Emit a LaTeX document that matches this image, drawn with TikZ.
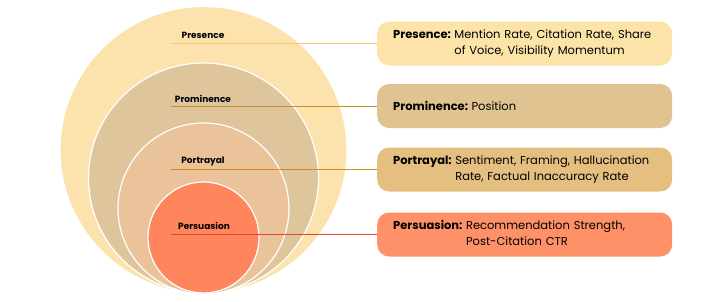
\documentclass[tikz,border=0pt]{standalone}
\usepackage{fontspec}
\setmainfont{Poppins}
\usetikzlibrary{positioning}
\definecolor{presFill}{HTML}{FCE3AD}
\definecolor{promFill}{HTML}{DFC59B}
\definecolor{portFill}{HTML}{EBC39B}
\definecolor{persFill}{HTML}{FF855D}
\definecolor{presBoxFill}{HTML}{FCE4A9}
\definecolor{promBoxFill}{HTML}{DFC390}
\definecolor{portBoxFill}{HTML}{E5BF80}
\definecolor{persBoxFill}{HTML}{FF9169}
\definecolor{presLine}{HTML}{F6C766}
\definecolor{promLine}{HTML}{C89030}
\definecolor{portLine}{HTML}{D88E10}
\definecolor{persLine}{HTML}{E8432E}
\begin{document}
\begin{tikzpicture}[
    x=1pt, y=-1pt,
    ring/.style={circle, draw=white, line width=1.2pt, inner sep=0pt},
    ringlabel/.style={font=\fontsize{9}{10}\selectfont\bfseries, anchor=south,
                      inner sep=2pt},
    metricbox/.style={rounded corners=12pt, anchor=west, align=left,
                      text width=263pt, inner xsep=16pt, minimum height=44pt,
                      font=\fontsize{11.5}{16}\selectfont},
    link/.style={line width=0.9pt}
]
\useasboundingbox (0,0) rectangle (721,301);

\node[ring, fill=presFill, minimum size=287pt] (presCirc) at (203.5,150) {};
\node[ring, fill=promFill, minimum size=230pt] (promCirc) at (203.5,178) {};
\node[ring, fill=portFill, minimum size=171pt] (portCirc) at (203.5,208.5) {};
\node[ring, fill=persFill, minimum size=111pt] (persCirc) at (203.5,237.5) {};

\node[metricbox, fill=presBoxFill] (presBox) at (377,43.5) {%
\textbf{Presence:}\hspace{3.5pt}\begin{tabular}[t]{@{}l@{}}Mention Rate, Citation Rate, Share\\
of Voice, Visibility Momentum\end{tabular}};
\node[metricbox, fill=promBoxFill] (promBox) at (377,106) {%
\textbf{Prominence:}\hspace{3.5pt}Position};
\node[metricbox, fill=portBoxFill] (portBox) at (377,169.5) {%
\textbf{Portrayal:}\hspace{3.5pt}\begin{tabular}[t]{@{}l@{}}Sentiment, Framing, Hallucination\\
Rate, Factual Inaccuracy Rate\end{tabular}};
\node[metricbox, fill=persBoxFill] (persBox) at (377,234.5) {%
\textbf{Persuasion:}\hspace{3.5pt}\begin{tabular}[t]{@{}l@{}}Recommendation Strength,\\
Post-Citation CTR\end{tabular}};

\coordinate (presStart) at (171,43.5);
\coordinate (promStart) at (171,106);
\coordinate (portStart) at (171,169.5);
\coordinate (persStart) at (171,234.5);

\draw[link, presLine] (presStart) -- (presBox.west);
\draw[link, promLine] (promStart) -- (promBox.west);
\draw[link, portLine] (portStart) -- (portBox.west);
\draw[link, persLine] (persStart) -- (persBox.west);

\node[ringlabel] (presLabel) at (203,41) {Presence};
\node[ringlabel] (promLabel) at (203,104.5) {Prominence};
\node[ringlabel] (portLabel) at (203,168) {Portrayal};
\node[ringlabel] (persLabel) at (204,232) {Persuasion};
\end{tikzpicture}
\end{document}
